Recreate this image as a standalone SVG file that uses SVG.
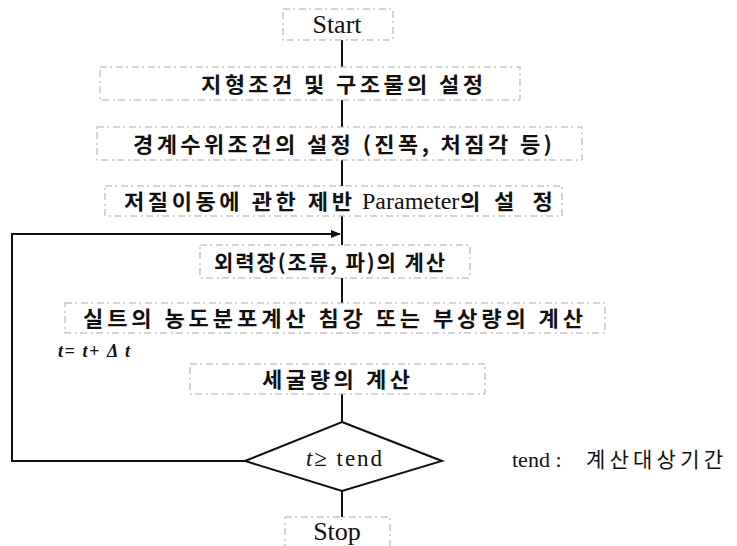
<svg xmlns="http://www.w3.org/2000/svg" width="737" height="546" viewBox="0 0 737 546">
<style>
.box{fill:none;stroke:#a8a8a8;stroke-width:1;stroke-dasharray:7 3 2 4}
.t{font-family:"Liberation Serif","Noto Sans CJK KR",serif;fill:#111}
.k{font-family:"Noto Sans CJK KR","Liberation Sans",sans-serif;fill:#111;font-size:21px;font-weight:bold}
.ln{stroke:#111;stroke-width:2;fill:none}
</style>
<defs>
<marker id="ah" markerWidth="10" markerHeight="8" refX="9" refY="4" orient="auto" markerUnits="userSpaceOnUse">
<path d="M0,0 L10,4 L0,8 Z" fill="#111"/>
</marker>
</defs>
<rect width="737" height="546" fill="#fff"/>
<g id="connectors">
<line class="ln" x1="342" y1="40" x2="342" y2="67"/>
<line class="ln" x1="342" y1="100" x2="342" y2="127"/>
<line class="ln" x1="342" y1="160" x2="342" y2="186"/>
<line class="ln" x1="342" y1="216" x2="342" y2="245"/>
<line class="ln" x1="342" y1="278" x2="342" y2="303"/>
<line class="ln" x1="342" y1="394" x2="342" y2="422"/>
<line class="ln" x1="342" y1="491" x2="342" y2="517"/>
<polyline class="ln" points="245,461 12,461 12,234 340,234" marker-end="url(#ah)"/>
</g>
<g id="start">
<rect class="box" x="283" y="9" width="110" height="31"/>
<text class="t" x="337" y="33" font-size="26" text-anchor="middle">Start</text>
</g>
<g id="n1">
<rect class="box" x="100" y="67" width="420" height="33"/>
<text class="k" transform="translate(201,92) scale(1.05,1)" textLength="268.6" lengthAdjust="spacing">지형조건 및 구조물의 설정</text>
</g>
<g id="n2">
<rect class="box" x="97" y="127" width="485" height="33"/>
<text class="k" transform="translate(133,152) scale(1.05,1)" textLength="399" lengthAdjust="spacing">경계수위조건의 설정 (진폭, 처짐각 등)</text>
</g>
<g id="n3">
<rect class="box" x="105" y="186" width="457" height="30"/>
<text class="k" transform="translate(124,209) scale(1.05,1)" textLength="217.1" lengthAdjust="spacing">저질이동에 관한 제반</text>
<text class="t" x="362" y="209" font-size="24">Parameter</text>
<text class="k" transform="translate(460,209) scale(1.05,1)">의</text>
<text class="k" transform="translate(494,209) scale(1.05,1)" textLength="56" lengthAdjust="spacing">설정</text>
</g>
<g id="n4">
<rect class="box" x="200" y="245" width="270" height="33"/>
<text class="k" x="214" y="270" textLength="231" lengthAdjust="spacing">외력장(조류, 파)의 계산</text>
</g>
<g id="n5">
<rect class="box" x="65" y="303" width="540" height="30"/>
<text class="k" transform="translate(83,326) scale(1.05,1)" textLength="476.2" lengthAdjust="spacing">실트의 농도분포계산 침강 또는 부상량의 계산</text>
</g>
<text class="t" x="58" y="357" font-size="18" font-style="italic" font-weight="bold" textLength="72" lengthAdjust="spacing">t= t+ Δ t</text>
<g id="n6">
<rect class="box" x="190" y="364" width="295" height="30"/>
<text class="k" transform="translate(262,387) scale(1.05,1)" textLength="141" lengthAdjust="spacing">세굴량의 계산</text>
</g>
<g id="decision">
<polygon class="ln" points="342,422 442,461 342,491 245,461"/>
<text class="t" x="306" y="466" font-size="23" textLength="76" lengthAdjust="spacing"><tspan font-style="italic">t</tspan>≥ tend</text>
</g>
<g id="note">
<text class="t" x="512" y="467" font-size="22">tend :</text>
<text x="586" y="467" font-family="Noto Sans CJK KR,sans-serif" font-size="21" fill="#111" textLength="137" lengthAdjust="spacing">계산대상기간</text>
</g>
<g id="stop">
<rect class="box" x="285" y="517" width="105" height="32"/>
<text class="t" x="337" y="540" font-size="26" text-anchor="middle">Stop</text>
</g>
</svg>
